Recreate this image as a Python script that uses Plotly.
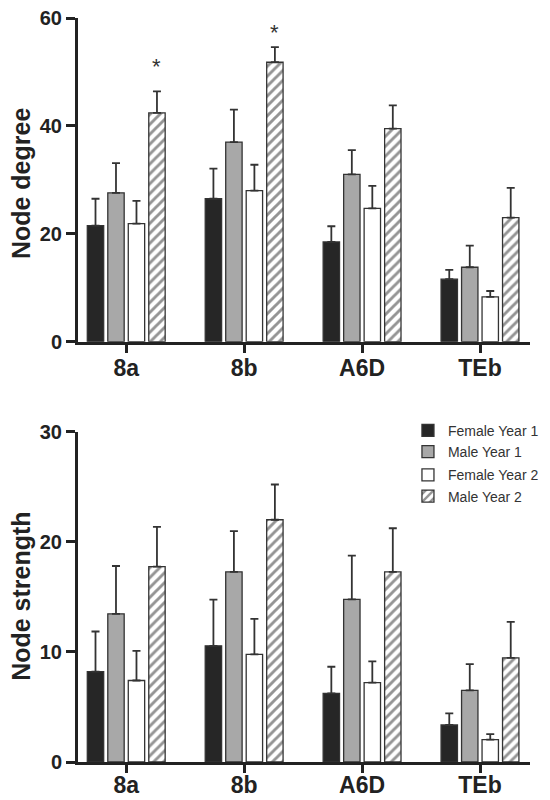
import plotly.graph_objects as go

categories = ["8a", "8b", "A6D", "TEb"]
series_names = ["Female Year 1", "Male Year 1", "Female Year 2", "Male Year 2"]

# Node degree (top panel)
degree_female_y1 = [21.5, 26.5, 18.5, 11.6]
degree_male_y1 = [27.6, 37.0, 31.0, 13.8]
degree_female_y2 = [21.9, 28.0, 24.7, 8.3]
degree_male_y2 = [42.4, 51.8, 39.5, 23.0]
degree_err_female_y1 = [5.0, 5.6, 2.9, 1.7]
degree_err_male_y1 = [5.5, 6.0, 4.5, 4.0]
degree_err_female_y2 = [4.2, 4.8, 4.2, 1.1]
degree_err_male_y2 = [4.0, 2.8, 4.3, 5.5]

# Node strength (bottom panel)
strength_female_y1 = [8.2, 10.55, 6.23, 3.36]
strength_male_y1 = [13.46, 17.27, 14.76, 6.5]
strength_female_y2 = [7.4, 9.77, 7.2, 2.03]
strength_male_y2 = [17.75, 22.0, 17.27, 9.46]
strength_err_female_y1 = [3.65, 4.2, 2.42, 1.05]
strength_err_male_y1 = [4.34, 3.69, 3.99, 2.39]
strength_err_female_y2 = [2.7, 3.23, 1.93, 0.51]
strength_err_male_y2 = [3.6, 3.2, 3.96, 3.27]

# significance markers (top panel, Male Year 2)
star_categories = ["8a", "8b"]
star_values = [50.8, 57.2]

degree_ticks = [0, 20, 40, 60]
strength_ticks = [0, 10, 20, 30]
y_titles = ["Node degree", "Node strength"]

FONT = "Liberation Sans, Arial, sans-serif"
DARK = "#222222"
OUT = "#333333"
BARGAP = 0.305

styles = [
    dict(color="#262626", pattern=None),
    dict(color="#a8a8a8", pattern=None),
    dict(color="#ffffff", pattern=None),
    dict(color="#ffffff", pattern=dict(shape="/", fgcolor="#2a2a2a", bgcolor="#ffffff", size=7, solidity=0.42)),
]

degree_vals = [degree_female_y1, degree_male_y1, degree_female_y2, degree_male_y2]
degree_errs = [degree_err_female_y1, degree_err_male_y1, degree_err_female_y2, degree_err_male_y2]
strength_vals = [strength_female_y1, strength_male_y1, strength_female_y2, strength_male_y2]
strength_errs = [strength_err_female_y1, strength_err_male_y1, strength_err_female_y2, strength_err_male_y2]

fig = go.Figure()


def add_panel(vals, errs, xa, ya, show):
    for k in range(4):
        st = styles[k]
        marker = dict(color=st["color"], line=dict(color=OUT, width=1.3))
        if st["pattern"] is not None:
            marker["pattern"] = st["pattern"]
        fig.add_trace(go.Bar(
            x=categories, y=vals[k], name=series_names[k],
            xaxis=xa, yaxis=ya, marker=marker, offsetgroup=str(k),
            legendgroup="g1" if k < 2 else "g2",
            showlegend=show,
            error_y=dict(type="data", symmetric=False, array=errs[k],
                         arrayminus=[0] * len(errs[k]), color=OUT,
                         thickness=1.8, width=4),
        ))


add_panel(degree_vals, degree_errs, "x", "y", False)
add_panel(strength_vals, strength_errs, "x2", "y2", True)

# asterisks above Male Year 2 bars
slot = (1 - BARGAP) / 4
for cat, sv in zip(star_categories, star_values):
    xi = categories.index(cat) + 1.5 * slot
    fig.add_annotation(x=xi, y=sv, xref="x", yref="y", text="*", showarrow=False,
                       font=dict(family=FONT, size=22, color="#333333"),
                       yanchor="middle", yshift=1)

# rotated y-axis titles, centred on each panel
for title, dom_ref in zip(y_titles, ["y domain", "y2 domain"]):
    fig.add_annotation(x=-0.1261, xref="paper", y=0.5 if dom_ref == "y2 domain" else 0.49,
                       yref=dom_ref, text=title, textangle=-90, showarrow=False,
                       xanchor="center", yanchor="middle", borderpad=0,
                       font=dict(family=FONT, size=25, color=DARK, weight="bold"))

xa_common = dict(
    type="category", range=[-0.409, 3.424], showline=True, linecolor=DARK, linewidth=3,
    ticks="outside", ticklen=8, tickwidth=2.5, tickcolor=DARK,
    tickfont=dict(family=FONT, size=23, color=DARK, weight="bold"),
    showgrid=False, zeroline=False, fixedrange=True, automargin=False,
    ticklabeloverflow="allow",
)
ya_common = dict(
    showline=True, linecolor=DARK, linewidth=3,
    ticks="outside", ticklen=9, tickwidth=2.5, tickcolor=DARK,
    tickfont=dict(family=FONT, size=20, color=DARK, weight="bold"),
    showgrid=False, zeroline=False, automargin=False,
    ticklabeloverflow="allow",
)

fig.update_layout(
    width=542, height=792,
    margin=dict(l=70, r=20, t=10, b=38, autoexpand=False),
    paper_bgcolor="white", plot_bgcolor="white",
    barmode="group", bargap=BARGAP, bargroupgap=0.2,
    font=dict(family=FONT, color=DARK),
    xaxis=dict(anchor="y", domain=[0, 1], ticklabelstandoff=-4, **xa_common),
    xaxis2=dict(anchor="y2", domain=[0, 1], ticklabelstandoff=-8, **xa_common),
    yaxis=dict(anchor="x", domain=[0.5649, 1], range=[0, 60], tickvals=degree_ticks, **ya_common),
    yaxis2=dict(anchor="x2", domain=[0, 0.4440], range=[0, 30], tickvals=strength_ticks, **ya_common),
    legend=dict(x=0.73, y=0.4666, xanchor="left", yanchor="top",
                font=dict(family=FONT, size=14, color="#333333"),
                tracegroupgap=2, bgcolor="rgba(0,0,0,0)", traceorder="grouped"),
    showlegend=True,
)

fig.write_html("out.html")
